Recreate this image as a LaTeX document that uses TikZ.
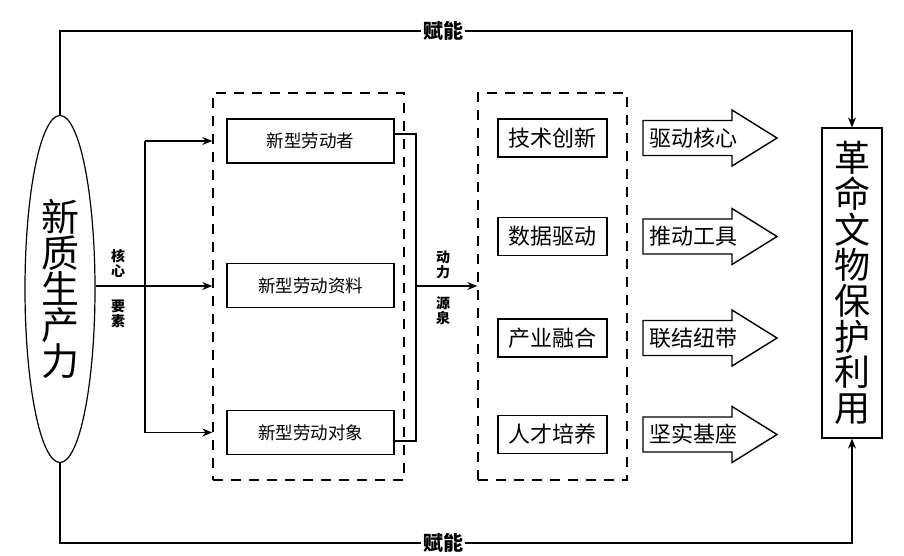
\documentclass[tikz,border=0pt]{standalone}
\usepackage{fontspec}
\newfontfamily\cjk{Noto Sans CJK SC}
\usetikzlibrary{shapes.geometric,arrows.meta}

\tikzset{
  grp/.style={draw, dash pattern=on 10pt off 8pt, line width=1.4pt, inner sep=0pt},
  lbox/.style={draw, minimum width=167pt, minimum height=44pt, inner sep=0pt,
    font=\cjk\fontsize{17.5}{20}\selectfont},
  rbox/.style={draw, minimum width=109pt, minimum height=38pt, inner sep=0pt,
    font=\cjk\fontsize{22}{24}\selectfont},
  atext/.style={inner sep=0pt, font=\cjk\fontsize{22}{24}\selectfont},
  lbl/.style={fill=white, inner sep=1pt, font=\cjk\bfseries\fontsize{20}{22}\selectfont},
  klbl/.style={inner sep=0pt, align=center, font=\cjk\bfseries\fontsize{14}{15}\selectfont},
}

\begin{document}
\begin{tikzpicture}[x=1pt, y=-1pt, line width=1.2pt, >={Stealth[length=10pt,width=8pt]}]
	\useasboundingbox (0,0) rectangle (904,555);
	% two ends
	\node[draw, ellipse, minimum width=70pt, minimum height=347pt, inner sep=0pt, align=center,
	  font=\cjk\fontsize{38}{36}\selectfont] (xzsc) at (60,289) {新\\质\\生\\产\\力};
	\node[draw, minimum width=60pt, minimum height=310pt, inner sep=0pt, align=center,
	  font=\cjk\fontsize{36}{35.7}\selectfont] (gm) at (852,283) {革\\命\\文\\物\\保\\护\\利\\用};
	% dashed groups
	\node[grp, minimum width=191pt, minimum height=387pt] (grp1) at (308.5,286.5) {};
	\node[grp, minimum width=149pt, minimum height=387pt] (grp2) at (552.5,286.5) {};
	\node[lbox] (ldz) at (310.5,141) {新型劳动者};
	\node[lbox] (ldl) at (310.5,285.5) {新型劳动资料};
	\node[lbox] (ldx) at (310.5,432.5) {新型劳动对象};
	\node[rbox] (js) at (552.5,138) {技术创新};
	\node[rbox] (sj) at (552.5,236.5) {数据驱动};
	\node[rbox] (cy) at (552.5,338) {产业融合};
	\node[rbox] (rc) at (552.5,434.5) {人才培养};
	% block arrows
	\foreach \n/\y/\t in {1/138/驱动核心, 2/236.5/推动工具, 3/338/联结纽带, 4/434.5/坚实基座}{
		\draw[line width=1.4pt, shift={(643,\y)}] (0,-17.5) -- (89,-17.5) -- (89,-28) -- (134,0)
		  -- (89,28) -- (89,17.5) -- (0,17.5) -- cycle;
		\node[atext, anchor=west] (ar\n) at (649,\y) {\t};
	}
	% core elements
	\coordinate (br) at (145,286);
	\draw[->] (xzsc.east |- br) -- (grp1.west |- br);
	\draw (br |- ldz) -- (br |- ldx);
	\draw[->] (br |- ldz) -- (grp1.west |- ldz);
	\draw[->] (br |- ldx) -- (grp1.west |- ldx);
	\node[klbl] (hx) at (118,263) {核\\心};
	\node[klbl] (ys) at (118,314) {要\\素};
	% power source
	\coordinate (bk) at (416,286);
	\draw ([yshift=7pt]ldz.east) -| (bk) |- ([yshift=-8.5pt]ldx.east);
	\draw[->] (bk) -- (grp2.west |- bk);
	\node[klbl] (dl) at (443,265) {动\\力};
	\node[klbl] (yq) at (443,311) {源\\泉};
	% empowering
	\node[lbl] (fn1) at (443,31) {赋能};
	\node[lbl] (fn2) at (443,543) {赋能};
	\draw (xzsc.north) |- (fn1.west);
	\draw[->] (fn1.east) -| (gm.north);
	\draw (xzsc.south) |- (fn2.west);
	\draw[->] (fn2.east) -| (gm.south);
\end{tikzpicture}
\end{document}
